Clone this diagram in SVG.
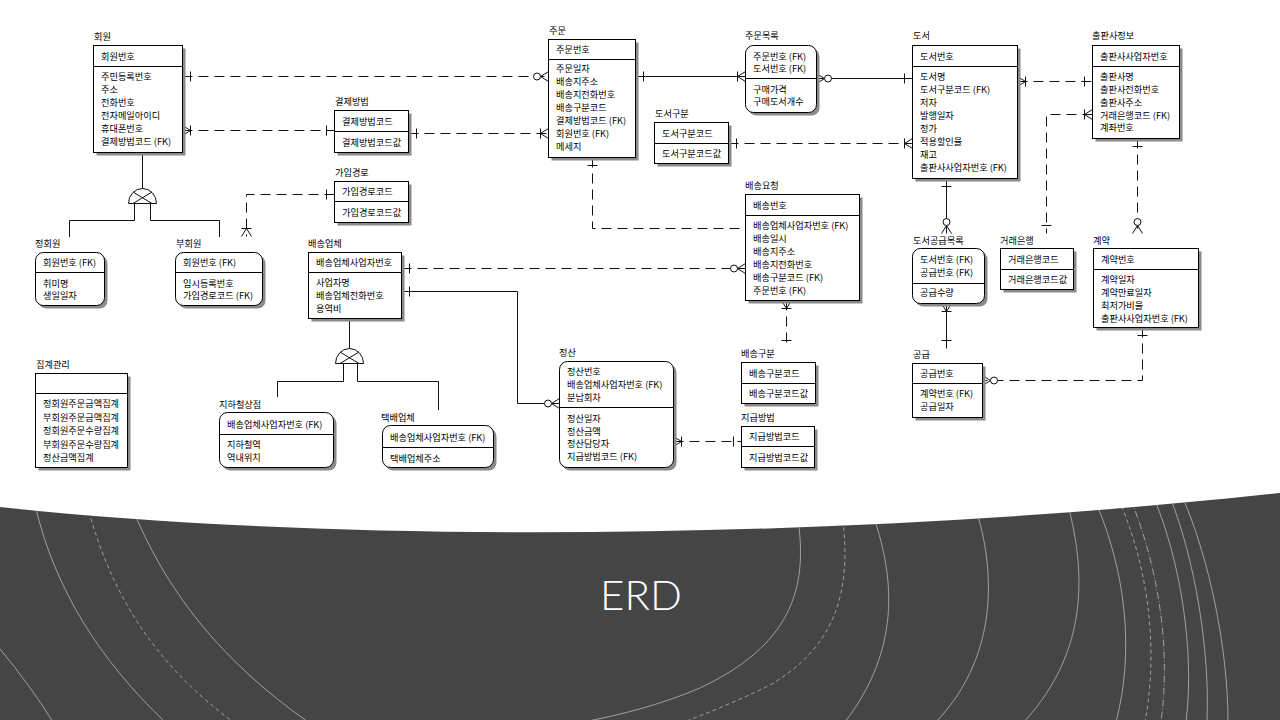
<svg xmlns="http://www.w3.org/2000/svg" xmlns:xlink="http://www.w3.org/1999/xlink" width="1280" height="720" viewBox="0 0 1280 720">
<style>
.sh{fill:#8a8a8a}
.bx{fill:#fff;stroke:#000;stroke-width:1}
.dv{stroke:#000;stroke-width:1}
.t{font-family:"Noto Sans CJK KR","Noto Sans",sans-serif;font-size:9.2px;fill:#000;dominant-baseline:central}
.cn{fill:none;stroke:#111;stroke-width:1}
.ds{stroke-dasharray:10 6}
.deco{fill:none;stroke:#a0a0a0;stroke-width:1}
.dd{stroke-dasharray:4 3}
.ddot{stroke-dasharray:7 2 1 2}
.title{font-family:Lato,"Open Sans",sans-serif;font-weight:300;font-size:42px;fill:#fff}
</style>
<defs>
<g id="one" stroke="#111" fill="none"><line x1="-8" y1="-5" x2="-8" y2="5"/></g>
<g id="m1" stroke="#111" fill="none"><line x1="-8" y1="0" x2="0" y2="-5"/><line x1="-8" y1="0" x2="0" y2="5"/><line x1="-8" y1="-5" x2="-8" y2="5"/></g>
<g id="m0" stroke="#111"><line x1="-8" y1="0" x2="0" y2="-5"/><line x1="-8" y1="0" x2="0" y2="5"/><circle cx="-11.5" cy="0" r="3.5" fill="#fff"/></g>
<clipPath id="dk"><path d="M0,507 C350,545 850,540 1280,493 V720 H0 Z"/></clipPath>
</defs>
<rect width="1280" height="720" fill="#fff"/>

<g id="background">
<path d="M0,507 C350,545 850,540 1280,493 V720 H0 Z" fill="#454545"/>
<g clip-path="url(#dk)">
<path class="deco" d="M0,649 Q30,685 53,722"/>
<path class="deco" d="M35,505 C55,590 100,660 165,722"/>
<path class="deco dd" d="M87,505 C110,590 150,660 233,722"/>
<path class="deco" d="M131,505 C165,590 220,660 308,722"/>
<path class="deco" d="M798,520 C810,600 780,650 700,688 C660,705 620,715 583,722"/>
<path class="deco dd" d="M843,520 C852,600 830,650 770,685 C740,700 710,712 684,722"/>
<path class="deco" d="M874,518 C895,580 900,650 845,722"/>
<path class="deco" d="M977,512 C997,580 995,660 936,722"/>
<path class="deco" d="M1068,505 C1085,570 1090,650 1024,722"/>
<path class="deco" d="M1096,503 C1125,570 1135,650 1116,722"/>
<path class="deco dd" d="M1119,500 C1145,560 1160,640 1145,722"/>
<path class="deco ddot" d="M1131,500 C1155,560 1172,640 1161,722"/>
<path class="deco" d="M1154,498 C1180,560 1195,650 1186,722"/>
<path class="deco" d="M1170,497 C1195,560 1210,650 1207,722"/>
<path class="deco" d="M1182,496 C1210,560 1228,650 1228,722"/>
</g>
<text class="title" x="641" y="610" text-anchor="middle">ERD</text>
</g>

<g id="connectors">
<path class="cn ds" d="M182.5,76.5 H548.5"/>
<use xlink:href="#one" transform="translate(182.5,76.5) rotate(180)"/>
<use xlink:href="#m0" transform="translate(548.5,76.5)"/>
<path class="cn ds" d="M182.5,130.5 H334.5"/>
<use xlink:href="#m1" transform="translate(182.5,130.5) rotate(180)"/>
<use xlink:href="#one" transform="translate(334.5,130.5)"/>
<path class="cn ds" d="M408.5,133.5 H548.5"/>
<use xlink:href="#one" transform="translate(408.5,133.5) rotate(180)"/>
<use xlink:href="#m1" transform="translate(548.5,133.5)"/>
<path class="cn ds" d="M334.5,194.5 H246.5 V236.5"/>
<use xlink:href="#one" transform="translate(334.5,194.5)"/>
<use xlink:href="#m1" transform="translate(246.5,236.5) rotate(90)"/>
<path class="cn" d="M635.5,76.5 H745.5"/>
<use xlink:href="#one" transform="translate(635.5,76.5) rotate(180)"/>
<use xlink:href="#m1" transform="translate(745.5,76.5)"/>
<path class="cn" d="M816.5,78.5 H912.5"/>
<use xlink:href="#m0" transform="translate(816.5,78.5) rotate(180)"/>
<use xlink:href="#one" transform="translate(912.5,78.5)"/>
<path class="cn ds" d="M728.5,143.5 H912.5"/>
<use xlink:href="#one" transform="translate(728.5,143.5) rotate(180)"/>
<use xlink:href="#m1" transform="translate(912.5,143.5)"/>
<path class="cn ds" d="M1017.5,81.5 H1092.5"/>
<use xlink:href="#m1" transform="translate(1017.5,81.5) rotate(180)"/>
<use xlink:href="#one" transform="translate(1092.5,81.5)"/>
<path class="cn ds" d="M1092.5,114.5 H1046.5 V233.5"/>
<use xlink:href="#m1" transform="translate(1092.5,114.5)"/>
<use xlink:href="#one" transform="translate(1046.5,233.5) rotate(90)"/>
<path class="cn ds" d="M1137.5,138.5 V233.5"/>
<use xlink:href="#one" transform="translate(1137.5,138.5) rotate(-90)"/>
<use xlink:href="#m0" transform="translate(1137.5,233.5) rotate(90)"/>
<path class="cn" d="M946.5,178.5 V233.5"/>
<use xlink:href="#one" transform="translate(946.5,178.5) rotate(-90)"/>
<use xlink:href="#m0" transform="translate(946.5,233.5) rotate(90)"/>
<path class="cn" d="M946.5,303.5 V348.5"/>
<use xlink:href="#m1" transform="translate(946.5,303.5) rotate(-90)"/>
<use xlink:href="#one" transform="translate(946.5,348.5) rotate(90)"/>
<path class="cn ds" d="M1142.5,327.5 V380.5 H982.5"/>
<use xlink:href="#one" transform="translate(1142.5,327.5) rotate(-90)"/>
<use xlink:href="#m0" transform="translate(982.5,380.5) rotate(180)"/>
<path class="cn ds" d="M592.5,157.5 V228.5 H745.5"/>
<use xlink:href="#one" transform="translate(592.5,157.5) rotate(-90)"/>
<path class="cn ds" d="M401.5,268.5 H745.5"/>
<use xlink:href="#one" transform="translate(401.5,268.5) rotate(180)"/>
<use xlink:href="#m0" transform="translate(745.5,268.5)"/>
<path class="cn ds" d="M786.5,300.5 V348.5"/>
<use xlink:href="#m1" transform="translate(786.5,300.5) rotate(-90)"/>
<use xlink:href="#one" transform="translate(786.5,348.5) rotate(90)"/>
<path class="cn" d="M401.5,291.5 H517.5 V403.5 H559.5"/>
<use xlink:href="#one" transform="translate(401.5,291.5) rotate(180)"/>
<use xlink:href="#m0" transform="translate(559.5,403.5)"/>
<path class="cn ds" d="M673.5,441.5 H741.5"/>
<use xlink:href="#m1" transform="translate(673.5,441.5) rotate(180)"/>
<use xlink:href="#one" transform="translate(741.5,441.5)"/>
<path class="cn" d="M142.5,152.5 V188.5"/>
<path class="cn" d="M128.5,203.5 A14,15 0 0 1 156.5,203.5 Z M133,192 L152,203.5 M152,192 L133,203.5"/>
<path class="cn" d="M134.5,203.5 V220.5 H69.5 V237 M150.5,203.5 V220.5 H219.5 V237"/>
<path class="cn" d="M349.5,318.5 V348.5"/>
<path class="cn" d="M335.5,363.5 A14,15 0 0 1 363.5,363.5 Z M340,352 L359,363.5 M359,352 L340,363.5"/>
<path class="cn" d="M343.5,363.5 V381.5 H277.5 V397 M357.5,363.5 V381.5 H438.5 V410"/>
</g>

<g id="member">
<text class="t" x="94" y="36">회원</text>
<rect class="sh" x="96.5" y="48.5" width="89" height="107"/>
<rect class="bx" x="93.5" y="45.5" width="89" height="107"/>
<line class="dv" x1="93.5" y1="66.5" x2="182.5" y2="66.5"/>
<text class="t" x="101" y="56">회원번호</text>
<text class="t" x="101" y="76">주민등록번호</text>
<text class="t" x="101" y="89">주소</text>
<text class="t" x="101" y="102">전화번호</text>
<text class="t" x="101" y="115">전자메일아이디</text>
<text class="t" x="101" y="128">휴대폰번호</text>
<text class="t" x="101" y="141">결제방법코드 (FK)</text>
</g>

<g id="payment_method">
<text class="t" x="335" y="101">결제방법</text>
<rect class="sh" x="337.5" y="113.5" width="74" height="42"/>
<rect class="bx" x="334.5" y="110.5" width="74" height="42"/>
<line class="dv" x1="334.5" y1="131.5" x2="408.5" y2="131.5"/>
<text class="t" x="342" y="121">결제방법코드</text>
<text class="t" x="342" y="142">결제방법코드값</text>
</g>

<g id="join_route">
<text class="t" x="335" y="172">가입경로</text>
<rect class="sh" x="337.5" y="184.5" width="74" height="41"/>
<rect class="bx" x="334.5" y="181.5" width="74" height="41"/>
<line class="dv" x1="334.5" y1="201.5" x2="408.5" y2="201.5"/>
<text class="t" x="342" y="191">가입경로코드</text>
<text class="t" x="342" y="212">가입경로코드값</text>
</g>

<g id="order">
<text class="t" x="549" y="30">주문</text>
<rect class="sh" x="551.5" y="42.5" width="87" height="118"/>
<rect class="bx" x="548.5" y="39.5" width="87" height="118"/>
<line class="dv" x1="548.5" y1="59.5" x2="635.5" y2="59.5"/>
<text class="t" x="556" y="49">주문번호</text>
<text class="t" x="556" y="68">주문일자</text>
<text class="t" x="556" y="81">배송지주소</text>
<text class="t" x="556" y="94">배송지전화번호</text>
<text class="t" x="556" y="107">배송구분코드</text>
<text class="t" x="556" y="120">결제방법코드 (FK)</text>
<text class="t" x="556" y="133">회원번호 (FK)</text>
<text class="t" x="556" y="146">메세지</text>
</g>

<g id="order_item">
<text class="t" x="745" y="35">주문목록</text>
<rect class="sh" x="748.5" y="48.5" width="71" height="67" rx="8"/>
<rect class="bx" x="745.5" y="45.5" width="71" height="67" rx="8"/>
<line class="dv" x1="745.5" y1="78.5" x2="816.5" y2="78.5"/>
<text class="t" x="753" y="56">주문번호 (FK)</text>
<text class="t" x="753" y="68">도서번호 (FK)</text>
<text class="t" x="753" y="89">구매가격</text>
<text class="t" x="753" y="101">구매도서개수</text>
</g>

<g id="book_category">
<text class="t" x="655" y="113">도서구분</text>
<rect class="sh" x="657.5" y="125.5" width="74" height="41"/>
<rect class="bx" x="654.5" y="122.5" width="74" height="41"/>
<line class="dv" x1="654.5" y1="143.5" x2="728.5" y2="143.5"/>
<text class="t" x="662" y="133">도서구분코드</text>
<text class="t" x="662" y="153">도서구분코드값</text>
</g>

<g id="book">
<text class="t" x="913" y="35">도서</text>
<rect class="sh" x="915.5" y="48.5" width="105" height="133"/>
<rect class="bx" x="912.5" y="45.5" width="105" height="133"/>
<line class="dv" x1="912.5" y1="66.5" x2="1017.5" y2="66.5"/>
<text class="t" x="920" y="56">도서번호</text>
<text class="t" x="920" y="76">도서명</text>
<text class="t" x="920" y="89">도서구분코드 (FK)</text>
<text class="t" x="920" y="102">저자</text>
<text class="t" x="920" y="115">발행일자</text>
<text class="t" x="920" y="128">정가</text>
<text class="t" x="920" y="141">적용할인율</text>
<text class="t" x="920" y="154">재고</text>
<text class="t" x="920" y="167">출판사사업자번호 (FK)</text>
</g>

<g id="publisher">
<text class="t" x="1092" y="35">출판사정보</text>
<rect class="sh" x="1095.5" y="48.5" width="87" height="93"/>
<rect class="bx" x="1092.5" y="45.5" width="87" height="93"/>
<line class="dv" x1="1092.5" y1="66.5" x2="1179.5" y2="66.5"/>
<text class="t" x="1100" y="56">출판사사업자번호</text>
<text class="t" x="1100" y="76">출판사명</text>
<text class="t" x="1100" y="89">출판사전화번호</text>
<text class="t" x="1100" y="102">출판사주소</text>
<text class="t" x="1100" y="115">거래은행코드 (FK)</text>
<text class="t" x="1100" y="127">계좌번호</text>
</g>

<g id="delivery_request">
<text class="t" x="745" y="185">배송요청</text>
<rect class="sh" x="748.5" y="197.5" width="114" height="106"/>
<rect class="bx" x="745.5" y="194.5" width="114" height="106"/>
<line class="dv" x1="745.5" y1="215.5" x2="859.5" y2="215.5"/>
<text class="t" x="753" y="205">배송번호</text>
<text class="t" x="753" y="225">배송업체사업자번호 (FK)</text>
<text class="t" x="753" y="238">배송일시</text>
<text class="t" x="753" y="251">배송지주소</text>
<text class="t" x="753" y="264">배송지전화번호</text>
<text class="t" x="753" y="277">배송구분코드 (FK)</text>
<text class="t" x="753" y="290">주문번호 (FK)</text>
</g>

<g id="courier">
<text class="t" x="308" y="243">배송업체</text>
<rect class="sh" x="311.5" y="255.5" width="93" height="66"/>
<rect class="bx" x="308.5" y="252.5" width="93" height="66"/>
<line class="dv" x1="308.5" y1="272.5" x2="401.5" y2="272.5"/>
<text class="t" x="316" y="262">배송업체사업자번호</text>
<text class="t" x="316" y="282">사업자명</text>
<text class="t" x="316" y="295">배송업체전화번호</text>
<text class="t" x="316" y="308">용역비</text>
</g>

<g id="settlement">
<text class="t" x="559" y="352">정산</text>
<rect class="sh" x="562.5" y="364.5" width="114" height="106" rx="8"/>
<rect class="bx" x="559.5" y="361.5" width="114" height="106" rx="8"/>
<line class="dv" x1="559.5" y1="407.5" x2="673.5" y2="407.5"/>
<text class="t" x="567" y="371">정산번호</text>
<text class="t" x="567" y="384">배송업체사업자번호 (FK)</text>
<text class="t" x="567" y="397">분납회차</text>
<text class="t" x="567" y="418">정산일자</text>
<text class="t" x="567" y="430.5">정산금액</text>
<text class="t" x="567" y="443">정산담당자</text>
<text class="t" x="567" y="455.5">지급방법코드 (FK)</text>
</g>

<g id="delivery_type">
<text class="t" x="741" y="353">배송구분</text>
<rect class="sh" x="744.5" y="365.5" width="74" height="41"/>
<rect class="bx" x="741.5" y="362.5" width="74" height="41"/>
<line class="dv" x1="741.5" y1="383.5" x2="815.5" y2="383.5"/>
<text class="t" x="749" y="373">배송구분코드</text>
<text class="t" x="749" y="393">배송구분코드값</text>
</g>

<g id="payment_type">
<text class="t" x="741" y="417">지급방법</text>
<rect class="sh" x="744.5" y="429.5" width="73" height="41"/>
<rect class="bx" x="741.5" y="426.5" width="73" height="41"/>
<line class="dv" x1="741.5" y1="446.5" x2="814.5" y2="446.5"/>
<text class="t" x="749" y="436">지급방법코드</text>
<text class="t" x="749" y="457">지급방법코드값</text>
</g>

<g id="supply_item">
<text class="t" x="913" y="240">도서공급목록</text>
<rect class="sh" x="915.5" y="251.5" width="72" height="55" rx="8"/>
<rect class="bx" x="912.5" y="248.5" width="72" height="55" rx="8"/>
<line class="dv" x1="912.5" y1="283.5" x2="984.5" y2="283.5"/>
<text class="t" x="920" y="259">도서번호 (FK)</text>
<text class="t" x="920" y="272">공급번호 (FK)</text>
<text class="t" x="920" y="292">공급수량</text>
</g>

<g id="bank">
<text class="t" x="1000" y="240">거래은행</text>
<rect class="sh" x="1003.5" y="251.5" width="73" height="41"/>
<rect class="bx" x="1000.5" y="248.5" width="73" height="41"/>
<line class="dv" x1="1000.5" y1="269.5" x2="1073.5" y2="269.5"/>
<text class="t" x="1008" y="259">거래은행코드</text>
<text class="t" x="1008" y="279">거래은행코드값</text>
</g>

<g id="contract">
<text class="t" x="1093" y="240">계약</text>
<rect class="sh" x="1096.5" y="251.5" width="105" height="79"/>
<rect class="bx" x="1093.5" y="248.5" width="105" height="79"/>
<line class="dv" x1="1093.5" y1="269.5" x2="1198.5" y2="269.5"/>
<text class="t" x="1101" y="259">계약번호</text>
<text class="t" x="1101" y="279">계약일자</text>
<text class="t" x="1101" y="292">계약만료일자</text>
<text class="t" x="1101" y="305">최저가비율</text>
<text class="t" x="1101" y="318">출판사사업자번호 (FK)</text>
</g>

<g id="supply">
<text class="t" x="913" y="354">공급</text>
<rect class="sh" x="915.5" y="366.5" width="70" height="54"/>
<rect class="bx" x="912.5" y="363.5" width="70" height="54"/>
<line class="dv" x1="912.5" y1="383.5" x2="982.5" y2="383.5"/>
<text class="t" x="920" y="373">공급번호</text>
<text class="t" x="920" y="393">계약번호 (FK)</text>
<text class="t" x="920" y="406">공급일자</text>
</g>

<g id="regular_member">
<text class="t" x="35" y="243">정회원</text>
<rect class="sh" x="38.5" y="255.5" width="69" height="53" rx="8"/>
<rect class="bx" x="35.5" y="252.5" width="69" height="53" rx="8"/>
<line class="dv" x1="35.5" y1="272.5" x2="104.5" y2="272.5"/>
<text class="t" x="43" y="262">회원번호 (FK)</text>
<text class="t" x="43" y="283">취미명</text>
<text class="t" x="43" y="295">생일일자</text>
</g>

<g id="associate_member">
<text class="t" x="176" y="243">부회원</text>
<rect class="sh" x="178.5" y="255.5" width="87" height="53" rx="8"/>
<rect class="bx" x="175.5" y="252.5" width="87" height="53" rx="8"/>
<line class="dv" x1="175.5" y1="272.5" x2="262.5" y2="272.5"/>
<text class="t" x="183" y="262">회원번호 (FK)</text>
<text class="t" x="183" y="283">임시등록번호</text>
<text class="t" x="183" y="295">가입경로코드 (FK)</text>
</g>

<g id="statistics">
<text class="t" x="36" y="364">집계관리</text>
<rect class="sh" x="38.5" y="376.5" width="92" height="94"/>
<rect class="bx" x="35.5" y="373.5" width="92" height="94"/>
<line class="dv" x1="35.5" y1="393.5" x2="127.5" y2="393.5"/>
<text class="t" x="43" y="403">정회원주문금액집계</text>
<text class="t" x="43" y="416.5">부회원주문금액집계</text>
<text class="t" x="43" y="430">정회원주문수량집계</text>
<text class="t" x="43" y="443.5">부회원주문수량집계</text>
<text class="t" x="43" y="457">정산금액집계</text>
</g>

<g id="subway_store">
<text class="t" x="219" y="404">지하철상점</text>
<rect class="sh" x="222.5" y="415.5" width="114" height="55" rx="8"/>
<rect class="bx" x="219.5" y="412.5" width="114" height="55" rx="8"/>
<line class="dv" x1="219.5" y1="434.5" x2="333.5" y2="434.5"/>
<text class="t" x="227" y="424">배송업체사업자번호 (FK)</text>
<text class="t" x="227" y="444">지하철역</text>
<text class="t" x="227" y="457">역내위치</text>
</g>

<g id="parcel_company">
<text class="t" x="381" y="417">택배업체</text>
<rect class="sh" x="385.5" y="428.5" width="111" height="42" rx="8"/>
<rect class="bx" x="382.5" y="425.5" width="111" height="42" rx="8"/>
<line class="dv" x1="382.5" y1="447.5" x2="493.5" y2="447.5"/>
<text class="t" x="390" y="437">배송업체사업자번호 (FK)</text>
<text class="t" x="390" y="458">택배업체주소</text>
</g>
</svg>
